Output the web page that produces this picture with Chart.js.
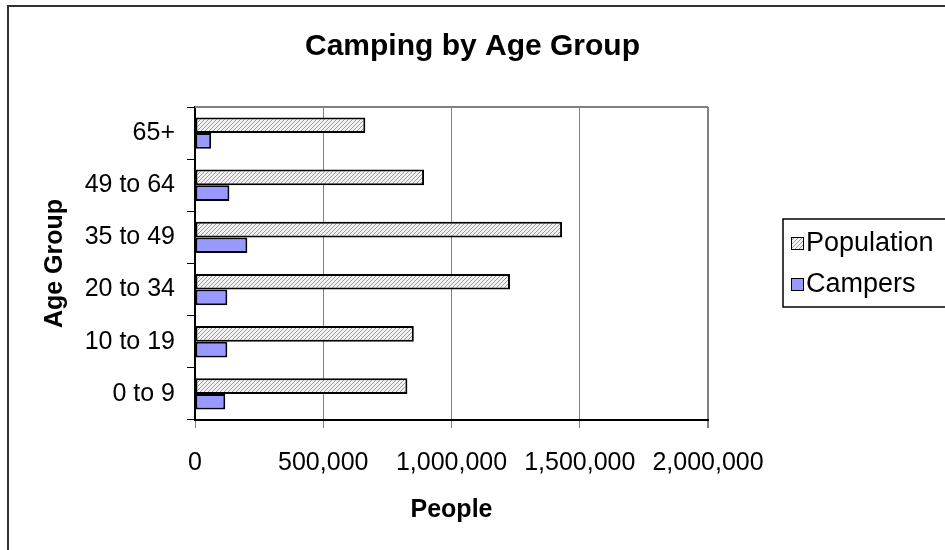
<!DOCTYPE html>
<html>
<head>
<meta charset="utf-8">
<script src="https://cdn.jsdelivr.net/npm/chart.js@4/dist/chart.umd.min.js"></script>
<style>
  html, body { margin: 0; padding: 0; background: #fff; }
  #wrap { width: 945px; height: 550px; }
</style>
</head>
<body>
<div id="wrap"><canvas id="chart" width="945" height="550"></canvas></div>
<script>
const categories = ['65+', '49 to 64', '35 to 49', '20 to 34', '10 to 19', '0 to 9'];
const population = [664000, 893000, 1431000, 1228000, 853000, 828000];
const campers = [63000, 134000, 204000, 126000, 126000, 118000];
const xTicks = [0, 500000, 1000000, 1500000, 2000000];

const FONT = "'Liberation Sans', Arial, sans-serif";
Chart.defaults.font.family = FONT;
Chart.defaults.color = '#000';

function hatch() {
    const c = document.createElement('canvas');
    c.width = 4; c.height = 4;
    const g = c.getContext('2d');
    g.fillStyle = '#f2f2f2';
    g.fillRect(0, 0, 4, 4);
    g.fillStyle = '#9a9a9a';
    for (let i = 0; i < 4; i++) g.fillRect(3 - i, i, 1, 1);
    return g.createPattern(c, 'repeat');
}

// outer frame + top edge of plot area
const frame = {
    id: 'frame',
    beforeDatasetsDraw(chart) {
        const { ctx, chartArea: a } = chart;
        ctx.save();
        ctx.strokeStyle = '#808080';
        ctx.lineWidth = 2;
        ctx.beginPath();
        ctx.moveTo(a.left, a.top);
        ctx.lineTo(a.right, a.top);
        ctx.stroke();
        ctx.restore();
    },
    afterDraw(chart) {
        const ctx = chart.ctx;
        ctx.save();
        ctx.strokeStyle = '#333';
        ctx.lineWidth = 2;
        ctx.beginPath();
        ctx.moveTo(8, 560);
        ctx.lineTo(8, 6);
        ctx.lineTo(960, 6);
        ctx.stroke();
        ctx.restore();
    }
};

// boxed legend on the right
const boxLegend = {
    id: 'boxLegend',
    afterDraw(chart) {
        const ctx = chart.ctx;
        ctx.save();
        ctx.strokeStyle = '#000';
        ctx.lineWidth = 1.5;
        ctx.strokeRect(783, 219, 200, 88);
        ctx.font = '27px ' + FONT;
        ctx.textBaseline = 'middle';
        chart.data.datasets.forEach((ds, i) => {
            const y = 243 + i * 41;
            ctx.fillStyle = ds.backgroundColor;
            ctx.fillRect(791, y - 6, 13, 13);
            ctx.lineWidth = 1;
            ctx.strokeStyle = '#000';
            ctx.strokeRect(791.5, y - 5.5, 12, 12);
            ctx.fillStyle = '#000';
            ctx.fillText(ds.label, 806, y + 1);
        });
        ctx.restore();
    }
};

const ctx = document.getElementById('chart');
new Chart(ctx, {
    type: 'bar',
    data: {
        labels: categories,
        datasets: [{
            label: 'Population',
            data: population,
            backgroundColor: hatch(),
            borderColor: '#000',
            borderWidth: 2,
            borderSkipped: false
        }, {
            label: 'Campers',
            data: campers,
            backgroundColor: '#9999ff',
            borderColor: '#000',
            borderWidth: 2,
            borderSkipped: false
        }]
    },
    options: {
        indexAxis: 'y',
        responsive: false,
        animation: false,
        devicePixelRatio: 1,
        categoryPercentage: 0.6,
        barPercentage: 1.0,
        layout: { padding: 0 },
        plugins: {
            legend: { display: false },
            tooltip: { enabled: false },
            title: {
                display: true,
                text: 'Camping by Age Group',
                font: { size: 30, weight: 'bold' },
                color: '#000',
                padding: { top: 29, bottom: 42 }
            }
        },
        scales: {
            x: {
                min: 0,
                max: 2000000,
                afterBuildTicks: s => { s.ticks = xTicks.map(v => ({ value: v })); },
                afterFit: s => { s.height = 130; },
                ticks: {
                    font: { size: 25 },
                    color: '#000',
                    padding: 20,
                    maxRotation: 0,
                    callback: v => Number(v).toLocaleString('en-US')
                },
                grid: {
                    color: '#808080',
                    lineWidth: c => (c.index === xTicks.length - 1 ? 2 : 1),
                    tickLength: 8
                },
                border: { display: true, color: '#000', width: 2 },
                title: {
                    display: true,
                    text: 'People',
                    font: { size: 25, weight: 'bold' },
                    color: '#000',
                    padding: { top: 0, bottom: 25 }
                }
            },
            y: {
                afterFit: s => { s.width = 195; },
                ticks: { font: { size: 25 }, color: '#000', padding: 12 },
                grid: { drawOnChartArea: false, color: '#000', tickLength: 8 },
                border: { display: true, color: '#000', width: 2 },
                title: {
                    display: true,
                    text: 'Age Group',
                    font: { size: 25, weight: 'bold' },
                    color: '#000',
                    padding: { top: 40, bottom: 0 }
                }
            },
            // empty right-hand axis that reserves the legend column
            legendSpace: {
                type: 'category',
                axis: 'y',
                position: 'right',
                labels: [''],
                afterFit: s => { s.width = 237; },
                ticks: { display: false },
                grid: { display: false },
                border: { display: false }
            }
        }
    },
    plugins: [frame, boxLegend]
});
</script>
</body>
</html>
